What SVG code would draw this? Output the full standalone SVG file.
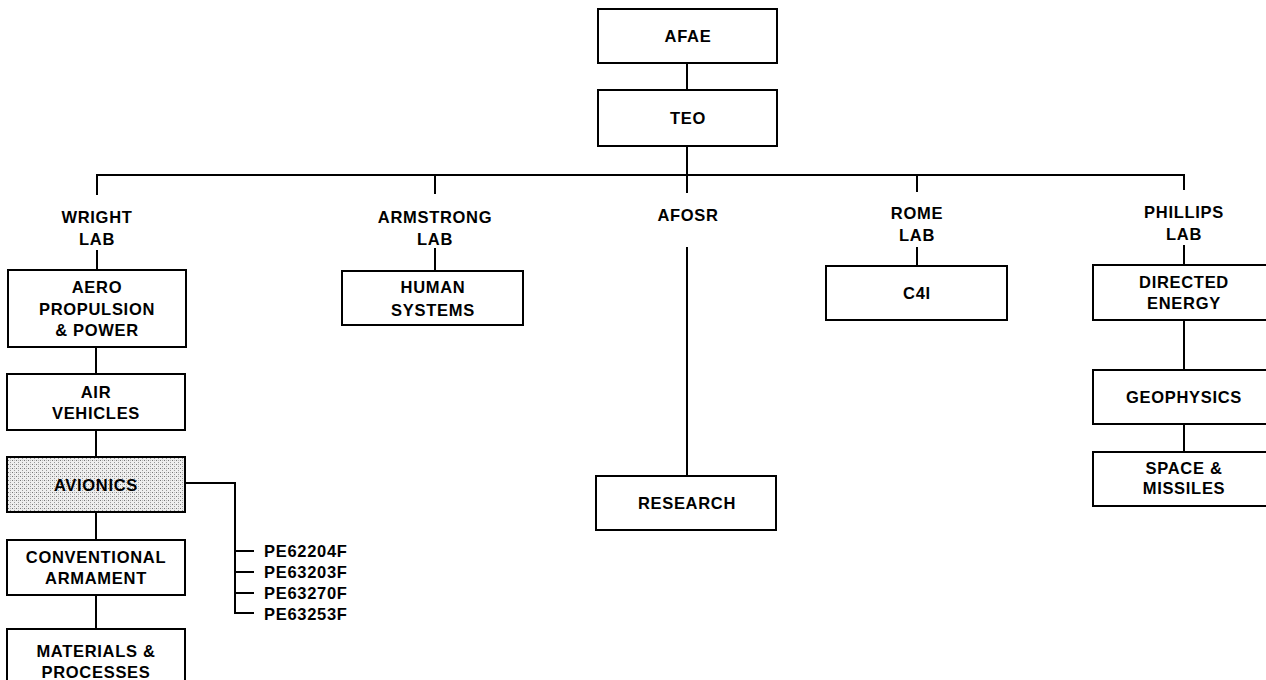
<svg xmlns="http://www.w3.org/2000/svg" width="1266" height="680" viewBox="0 0 1266 680">
<style>
.box{fill:#fff;stroke:#000;stroke-width:2}
.lbl{font-family:"Liberation Sans",Arial,sans-serif;font-weight:bold;font-size:16.5px;letter-spacing:0.7px;fill:#000;text-anchor:middle}
.pe{text-anchor:start}
.con{fill:none;stroke:#000;stroke-width:2}
</style>
<defs>
<pattern id="stip" width="4" height="4" patternUnits="userSpaceOnUse">
<rect width="4" height="4" fill="#eeeeee"/>
<rect x="0" y="0" width="1" height="1" fill="#777"/>
<rect x="2" y="2" width="1" height="1" fill="#999"/>
<rect x="2" y="0" width="1" height="1" fill="#bbb"/>
</pattern>
</defs>
<rect width="1266" height="680" fill="#fff"/>
<g id="connectors" class="con">
<path d="M687 63V90"/>
<path d="M687 146V175"/>
<path d="M97 195V175H1184V190"/>
<path d="M435 175V194"/>
<path d="M687 175V193"/>
<path d="M917 175V192"/>
<path d="M97 250V270"/>
<path d="M435 248V271"/>
<path d="M687 247V476"/>
<path d="M917 247V266"/>
<path d="M1184 245V265"/>
<path d="M96 347V374"/>
<path d="M96 430V457"/>
<path d="M96 512V540"/>
<path d="M96 595V629"/>
<path d="M185 483H235V613H254"/>
<path d="M235 551H254M235 572H254M235 593H254"/>
<path d="M1184 320V370"/>
<path d="M1184 424V452"/>
</g>
<g id="afae"><rect class="box" x="598" y="9" width="179" height="54"/><text class="lbl" x="688" y="42">AFAE</text></g>
<g id="teo"><rect class="box" x="598" y="90" width="179" height="56"/><text class="lbl" x="688" y="124">TEO</text></g>
<g id="wright"><text class="lbl" x="97" y="223">WRIGHT</text><text class="lbl" x="97" y="245">LAB</text></g>
<g id="armstrong"><text class="lbl" x="435" y="223">ARMSTRONG</text><text class="lbl" x="435" y="245">LAB</text></g>
<g id="afosr"><text class="lbl" x="688" y="221">AFOSR</text></g>
<g id="rome"><text class="lbl" x="917" y="219">ROME</text><text class="lbl" x="917" y="241">LAB</text></g>
<g id="phillips"><text class="lbl" x="1184" y="218">PHILLIPS</text><text class="lbl" x="1184" y="240">LAB</text></g>
<g id="aero"><rect class="box" x="8" y="270" width="178" height="77"/><text class="lbl" x="97" y="293">AERO</text><text class="lbl" x="97" y="315">PROPULSION</text><text class="lbl" x="97" y="336">&amp; POWER</text></g>
<g id="air"><rect class="box" x="7" y="374" width="178" height="56"/><text class="lbl" x="96" y="398">AIR</text><text class="lbl" x="96" y="419">VEHICLES</text></g>
<g id="avionics"><rect class="box" x="7" y="457" width="178" height="55" style="fill:url(#stip)"/><text class="lbl" x="96" y="491">AVIONICS</text></g>
<g id="conventional"><rect class="box" x="7" y="540" width="178" height="55"/><text class="lbl" x="96" y="563">CONVENTIONAL</text><text class="lbl" x="96" y="584">ARMAMENT</text></g>
<g id="materials"><rect class="box" x="7" y="629" width="178" height="62"/><text class="lbl" x="96" y="657">MATERIALS &amp;</text><text class="lbl" x="96" y="678">PROCESSES</text></g>
<g id="pe-list">
<text class="lbl pe" x="264" y="557">PE62204F</text>
<text class="lbl pe" x="264" y="578">PE63203F</text>
<text class="lbl pe" x="264" y="599">PE63270F</text>
<text class="lbl pe" x="264" y="620">PE63253F</text>
</g>
<g id="human"><rect class="box" x="342" y="271" width="181" height="54"/><text class="lbl" x="433" y="293">HUMAN</text><text class="lbl" x="433" y="316">SYSTEMS</text></g>
<g id="research"><rect class="box" x="596" y="476" width="180" height="54"/><text class="lbl" x="687" y="509">RESEARCH</text></g>
<g id="c4i"><rect class="box" x="826" y="266" width="181" height="54"/><text class="lbl" x="917" y="299">C4I</text></g>
<g id="directed"><rect class="box" x="1093" y="265" width="190" height="55"/><text class="lbl" x="1184" y="288">DIRECTED</text><text class="lbl" x="1184" y="309">ENERGY</text></g>
<g id="geophysics"><rect class="box" x="1093" y="370" width="190" height="54"/><text class="lbl" x="1184" y="403">GEOPHYSICS</text></g>
<g id="space"><rect class="box" x="1093" y="452" width="190" height="54"/><text class="lbl" x="1184" y="474">SPACE &amp;</text><text class="lbl" x="1184" y="494">MISSILES</text></g>
</svg>
